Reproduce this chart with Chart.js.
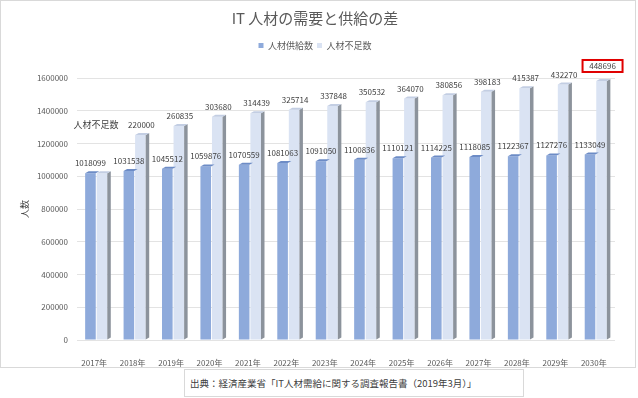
<!DOCTYPE html>
<html>
<head>
<meta charset="utf-8">
<script src="https://cdn.jsdelivr.net/npm/chart.js@4.4.1/dist/chart.umd.min.js"></script>
<style>
  body { margin: 0; background: #fff; font-family: "Noto Sans CJK JP", sans-serif; }
  #frame { position: absolute; left: 0; top: 0; width: 634px; height: 366px; border: 1px solid #d9d9d9; }
  #source {
    position: absolute; left: 184px; top: 369px; width: 340px; height: 28px;
    border: 1px solid #d9d9d9; box-sizing: border-box;
    font-size: 9.5px; color: #404040; line-height: 26px; padding-left: 5px; white-space: nowrap;
  }
</style>
</head>
<body>
<div id="frame"><canvas id="myChart" width="634" height="366"></canvas></div>
<div id="source">出典：経済産業省「IT人材需給に関する調査報告書（2019年3月）」</div>
<script>
const years = ['2017年', '2018年', '2019年', '2020年', '2021年', '2022年', '2023年',
  '2024年', '2025年', '2026年', '2027年', '2028年', '2029年', '2030年'];
const supply = [1018099, 1031538, 1045512, 1059876, 1070559, 1081063, 1091050,
  1100836, 1110121, 1114225, 1118085, 1122367, 1127276, 1133049];
const shortage = [0, 220000, 260835, 303680, 314439, 325714, 337848,
  350532, 364070, 380856, 398183, 415387, 432270, 448696];
const yTicks = [0, 200000, 400000, 600000, 800000, 1000000, 1200000, 1400000, 1600000];

// light bar shows total demand (supply + shortage), labelled with the shortage
const demand = supply.map((v, i) => v + shortage[i]);

const FONT = '"Noto Sans CJK JP", sans-serif';

const legendSpacer = {
  id: 'legendSpacer',
  beforeInit(chart) {
    const fit = chart.legend.fit;
    chart.legend.fit = function () {
      fit.bind(chart.legend)();
      this.height += 18;
    };
  }
};

const barDecor = {
  id: 'barDecor',
  afterDatasetsDraw(chart) {
    const ctx = chart.ctx;
    const m0 = chart.getDatasetMeta(0);
    const m1 = chart.getDatasetMeta(1);
    ctx.save();
    // 3d-ish side and top faces
    m1.data.forEach(bar => {
      const r = bar.x + bar.width / 2;
      const l = bar.x - bar.width / 2;
      ctx.fillStyle = '#8c939c';
      ctx.beginPath();
      ctx.moveTo(r, bar.y);
      ctx.lineTo(r + 3.5, bar.y - 2);
      ctx.lineTo(r + 3.5, bar.base - 2);
      ctx.lineTo(r, bar.base);
      ctx.closePath();
      ctx.fill();
      ctx.fillStyle = '#c3cee3';
      ctx.beginPath();
      ctx.moveTo(l, bar.y);
      ctx.lineTo(l + 3.5, bar.y - 2);
      ctx.lineTo(r + 3.5, bar.y - 2);
      ctx.lineTo(r, bar.y);
      ctx.closePath();
      ctx.fill();
    });
    m0.data.forEach(bar => {
      const r = bar.x + bar.width / 2;
      const l = bar.x - bar.width / 2;
      ctx.fillStyle = '#6d8cc6';
      ctx.beginPath();
      ctx.moveTo(l, bar.y);
      ctx.lineTo(l + 3.5, bar.y - 2);
      ctx.lineTo(r + 3.5, bar.y - 2);
      ctx.lineTo(r, bar.y);
      ctx.closePath();
      ctx.fill();
    });

    // value labels
    ctx.font = '8px ' + FONT;
    ctx.fillStyle = '#404040';
    ctx.textAlign = 'center';
    ctx.textBaseline = 'middle';
    m0.data.forEach((bar, i) => {
      ctx.fillText(String(supply[i]), bar.x, bar.y - 10);
    });
    const last = shortage.length - 1;
    m1.data.forEach((bar, i) => {
      if (!shortage[i]) return;
      const off = i === last ? 15 : 10;
      ctx.fillText(String(shortage[i]), bar.x + 1, bar.y - off);
      if (i === last) {
        ctx.strokeStyle = '#e00000';
        ctx.lineWidth = 2;
        ctx.strokeRect(bar.x - 19, bar.y - off - 6, 40, 12);
      }
    });

    // annotation next to first shortage label
    const b = m1.data[1];
    ctx.font = '9px ' + FONT;
    ctx.textAlign = 'right';
    ctx.fillText('人材不足数', b.x - 22, b.y - 10);
    ctx.restore();
  }
};

const ctx = document.getElementById('myChart').getContext('2d');
new Chart(ctx, {
  type: 'bar',
  data: {
    labels: years,
    datasets: [
      {
        label: '人材供給数',
        data: supply,
        backgroundColor: '#8eaadb',
        categoryPercentage: 0.6,
        barPercentage: 0.92
      },
      {
        label: '人材不足数',
        data: demand,
        backgroundColor: '#dae3f3',
        categoryPercentage: 0.6,
        barPercentage: 0.92
      }
    ]
  },
  options: {
    responsive: false,
    animation: false,
    layout: { padding: { left: 14, right: 20, top: 0, bottom: 0 } },
    plugins: {
      title: {
        display: true,
        text: 'IT 人材の需要と供給の差',
        color: '#595959',
        font: { family: FONT, size: 15, weight: 'normal' },
        padding: { top: 8, bottom: 10 }
      },
      legend: {
        position: 'top',
        labels: {
          color: '#595959',
          font: { family: FONT, size: 9 },
          boxWidth: 5,
          boxHeight: 5,
          padding: 4
        }
      },
      tooltip: { enabled: false }
    },
    scales: {
      x: {
        grid: { display: false },
        border: { display: false },
        ticks: {
          color: '#595959',
          font: { family: FONT, size: 8 },
          padding: 10,
          labelOffset: -2
        },
        afterFit(scale) { scale.height = 27; }
      },
      y: {
        min: 0,
        max: 1600000,
        afterBuildTicks(scale) { scale.ticks = yTicks.map(v => ({ value: v })); },
        grid: { color: '#e3e3e3', drawTicks: false },
        border: { display: false },
        ticks: {
          color: '#595959',
          font: { family: FONT, size: 8 },
          padding: 9,
          callback: v => String(v)
        },
        title: {
          display: true,
          text: '人数',
          color: '#404040',
          font: { family: FONT, size: 9 },
          padding: 4
        },
        afterFit(scale) { scale.width = 62; }
      }
    }
  },
  plugins: [legendSpacer, barDecor]
});
</script>
</body>
</html>
